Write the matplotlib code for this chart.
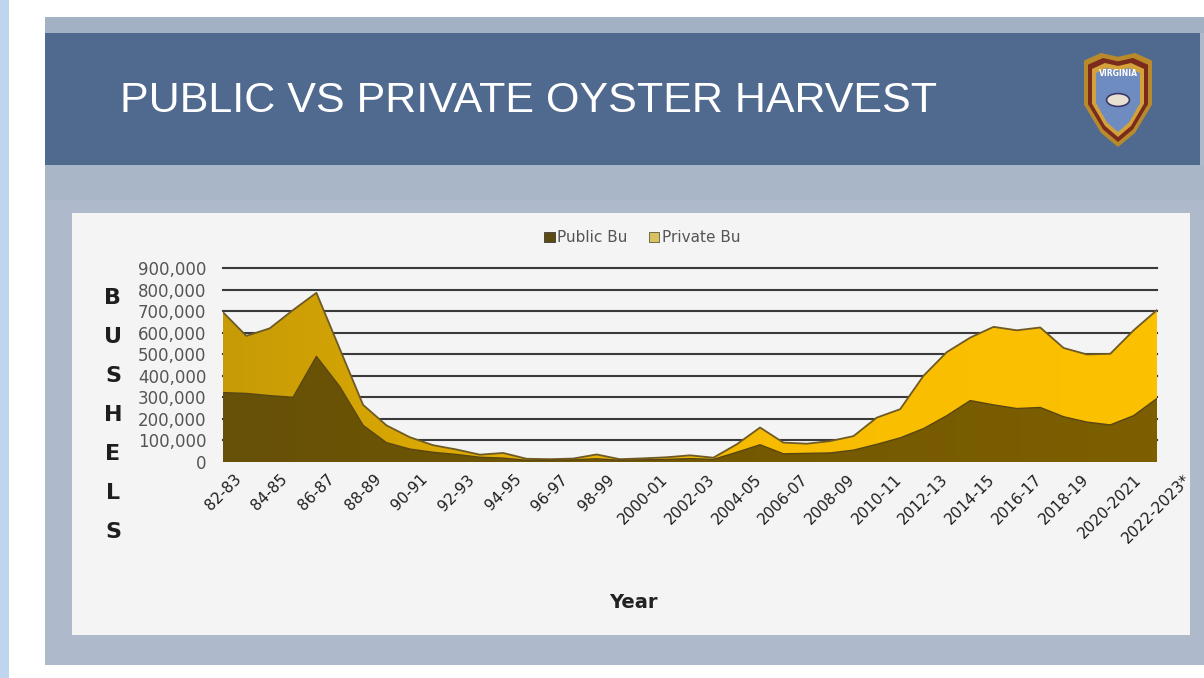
import numpy as np
import matplotlib
matplotlib.use("Agg")
import matplotlib.pyplot as plt
from matplotlib.patches import Rectangle, Polygon, Patch
from matplotlib.colors import LinearSegmentedColormap

# ---------------- data ----------------
seasons = ["82-83", "83-84", "84-85", "85-86", "86-87", "87-88", "88-89", "89-90",
           "90-91", "91-92", "92-93", "93-94", "94-95", "95-96", "96-97", "97-98",
           "98-99", "99-00", "2000-01", "2001-02", "2002-03", "2003-04", "2004-05",
           "2005-06", "2006-07", "2007-08", "2008-09", "2009-10", "2010-11", "2011-12",
           "2012-13", "2013-14", "2014-15", "2015-16", "2016-17", "2017-18", "2018-19",
           "2019-20", "2020-2021", "2021-22", "2022-2023*"]
public_bu = [322000, 318000, 308000, 300000, 490000, 350000, 170000, 90000,
             60000, 45000, 35000, 22000, 18000, 8000, 8000, 10000,
             15000, 8000, 10000, 12000, 16000, 12000, 45000,
             80000, 38000, 40000, 42000, 55000, 82000, 112000,
             155000, 215000, 285000, 265000, 248000, 253000, 210000,
             185000, 172000, 215000, 295000]
private_bu = [373000, 267000, 312000, 405000, 295000, 175000, 95000, 80000,
              55000, 33000, 23000, 12000, 24000, 7000, 5000, 6000,
              20000, 5000, 7000, 10000, 15000, 8000, 37000,
              80000, 52000, 45000, 55000, 65000, 124000, 133000,
              245000, 295000, 292000, 362000, 363000, 371000, 319000,
              314000, 330000, 396000, 410000]
yticks = [0, 100000, 200000, 300000, 400000, 500000, 600000, 700000, 800000, 900000]
ytick_labels = ["0", "100,000", "200,000", "300,000", "400,000", "500,000",
                "600,000", "700,000", "800,000", "900,000"]
title = "PUBLIC VS PRIVATE OYSTER HARVEST"
series_names = ["Public Bu", "Private Bu"]

W, H = 1204, 678
fig = plt.figure(figsize=(W / 100, H / 100), dpi=100)
fig.patch.set_facecolor("white")

def frect(x0, y0, x1, y1, color, z=-5, **kw):
    fig.patches.append(Rectangle((x0 / W, 1 - y1 / H), (x1 - x0) / W, (y1 - y0) / H,
                                 transform=fig.transFigure, facecolor=color,
                                 edgecolor="none", zorder=z, **kw))

# background frames
frect(0, 0, 9, H, "#bdd5ef")
frect(45, 17, W, 665, "#aebacb")
frect(45, 17, W, 33, "#a3b1c4")
frect(45, 33, 1200, 165, "#50698f")
frect(45, 165, W, 200, "#a9b6c7")
frect(72, 213, 1190, 635, "#f4f4f4")

# title
fig.text(120 / W, 1 - 101 / H, title, color="white", fontsize=31,
         family="Liberation Sans", va="center", ha="left")

# logo (shield)
def shield(cx, top, w, h):
    pts = [(cx - w / 2, top + 0.08 * h), (cx - w / 4, top), (cx, top + 0.04 * h),
           (cx + w / 4, top), (cx + w / 2, top + 0.08 * h), (cx + w / 2, top + 0.55 * h),
           (cx + w / 4, top + 0.85 * h), (cx, top + h), (cx - w / 4, top + 0.85 * h),
           (cx - w / 2, top + 0.55 * h)]
    return [(x / W, 1 - y / H) for x, y in pts]

for (w, h, dy, col) in [(68, 94, 0, "#b98a2c"), (60, 84, 5, "#7a2b1c"),
                        (52, 74, 10, "#d3a23a"), (44, 64, 15, "#6f8cc0")]:
    fig.patches.append(Polygon(shield(1118, 53 + dy, w, h), closed=True,
                               transform=fig.transFigure, facecolor=col,
                               edgecolor="none", zorder=-2))
fig.text(1118 / W, 1 - 74 / H, "VIRGINIA", color="white", fontsize=5.5,
         fontweight="bold", ha="center", va="center", zorder=3)
fig.patches.append(plt.Circle((1118 / W, 1 - 100 / H), 0.0095, transform=fig.transFigure,
                              facecolor="#e8e0d0", edgecolor="#3a3a6a", lw=1.2, zorder=-1))

# ---------------- chart ----------------
ax = fig.add_axes([223 / W, 1 - 462 / H, (1157 - 223) / W, (462 - 268) / H])
ax.set_zorder(5)
ax.set_facecolor("none")
x = np.arange(len(seasons))
pub = np.array(public_bu, dtype=float)
tot = pub + np.array(private_bu, dtype=float)

for v in yticks[1:]:
    ax.axhline(v, color="#3a3a3a", lw=1.5, zorder=1, clip_on=False)

priv_cmap = LinearSegmentedColormap.from_list(
    "priv", [(0, "#c69b06"), (0.3, "#e3ad02"), (0.6, "#f8bd00"), (1, "#fcc100")])
pub_cmap = LinearSegmentedColormap.from_list(
    "pub", [(0, "#675108"), (0.5, "#735800"), (1, "#7d5f00")])
grad = np.linspace(0, 1, 256).reshape(1, -1)

priv_poly = ax.fill_between(x, pub, tot, facecolor="none", edgecolor="none", zorder=2)
im1 = ax.imshow(grad, cmap=priv_cmap, aspect="auto", extent=[0, 40, 0, 900000],
                zorder=2, interpolation="bilinear")
im1.set_clip_path(priv_poly.get_paths()[0], transform=ax.transData)
pub_poly = ax.fill_between(x, 0, pub, facecolor="none", edgecolor="none", zorder=3)
im2 = ax.imshow(grad, cmap=pub_cmap, aspect="auto", extent=[0, 40, 0, 900000],
                zorder=3, interpolation="bilinear")
im2.set_clip_path(pub_poly.get_paths()[0], transform=ax.transData)
ax.plot(x, tot, color="#6e5a26", lw=1.3, zorder=4)
ax.plot(x, pub, color="#5a4612", lw=1.0, zorder=4)
ax.set_xlim(0, len(seasons) - 1)
ax.set_ylim(0, 900000)

for s in ax.spines.values():
    s.set_visible(False)
ax.set_yticks(yticks)
ax.set_yticklabels(ytick_labels, fontsize=12, color="#555555")
ax.set_xticks(x[::2])
ax.set_xticklabels(seasons[::2], rotation=45, ha="center", va="top",
                   rotation_mode="default", fontsize=11, color="#1e1e1e")
ax.tick_params(axis="both", length=0)
ax.tick_params(axis="y", pad=12)
ax.tick_params(axis="x", pad=7)

fig.text(633 / W, 1 - 603 / H, "Year", fontsize=14, fontweight="bold",
         color="#222222", ha="center", va="center")

# vertical stacked letters
for i, ch in enumerate("BUSHELS"):
    fig.text(113 / W, 1 - (298 + i * 39) / H, ch, fontsize=16, fontweight="bold",
             color="#1e1e1e", ha="center", va="center")

# legend
handles = [Patch(facecolor="#5b4a12", edgecolor="#3a3a3a", lw=0.6),
           Patch(facecolor="#d9c060", edgecolor="#5a5a3a", lw=0.6)]
fig.legend(handles, series_names, loc="center", ncol=2, frameon=False,
           bbox_to_anchor=(642 / W, 1 - 238 / H), fontsize=11, labelcolor="#555555",
           handlelength=0.7, handleheight=0.7, handletextpad=0.15, columnspacing=1.4)

fig.savefig("out.png", dpi=100)
